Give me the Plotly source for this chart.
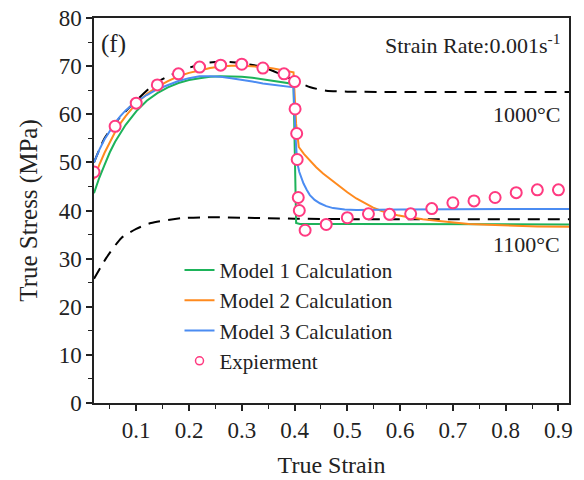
import plotly.graph_objects as go

# ---------------- data ----------------
m1_x = [0.02, 0.03, 0.04, 0.05, 0.06, 0.07, 0.08, 0.10, 0.12, 0.14, 0.16, 0.18, 0.20, 0.22, 0.24,
        0.26, 0.28, 0.30, 0.32, 0.34, 0.36, 0.38, 0.398, 0.403, 0.41, 0.50, 0.70, 0.92]
m1_y = [43.6, 46.8, 49.5, 52.1, 54.3, 56.2, 57.8, 60.6, 62.8, 64.4, 65.6, 66.5, 67.1, 67.5, 67.8,
        67.9, 67.9, 67.8, 67.6, 67.3, 67.0, 66.6, 66.3, 37.4, 37.2, 37.2, 37.2, 37.1]

m2_x = [0.02, 0.03, 0.04, 0.05, 0.06, 0.07, 0.08, 0.10, 0.12, 0.14, 0.16, 0.18, 0.20, 0.22, 0.24,
        0.26, 0.28, 0.30, 0.32, 0.34, 0.36, 0.38, 0.398, 0.403, 0.408, 0.418, 0.429, 0.441,
        0.454, 0.47, 0.486, 0.50, 0.517, 0.533, 0.549, 0.565, 0.58, 0.595, 0.611, 0.627,
        0.643, 0.674, 0.70, 0.73, 0.78, 0.825, 0.86, 0.92]
m2_y = [46.5, 49.5, 52.0, 54.3, 56.3, 58.1, 59.6, 62.2, 64.2, 65.7, 66.9, 67.9, 68.6, 69.1, 69.6,
        69.9, 70.1, 70.1, 70.0, 69.8, 69.5, 69.1, 68.7, 58.0, 53.2, 51.7, 50.4, 49.0,
        47.7, 46.3, 45.0, 43.8, 42.5, 41.5, 40.6, 39.9, 39.4, 39.0, 38.7, 38.4,
        38.2, 37.8, 37.5, 37.2, 37.0, 36.8, 36.7, 36.6]

m3_x = [0.02, 0.03, 0.04, 0.05, 0.06, 0.07, 0.08, 0.10, 0.12, 0.14, 0.16, 0.18, 0.20, 0.22, 0.24,
        0.26, 0.28, 0.30, 0.32, 0.34, 0.36, 0.38, 0.398, 0.402, 0.405, 0.409, 0.413, 0.417,
        0.423, 0.429, 0.438, 0.448, 0.46, 0.473, 0.495, 0.517, 0.60, 0.70, 0.80, 0.92]
m3_y = [50.0, 52.6, 54.8, 56.6, 58.2, 59.6, 60.8, 62.6, 64.0, 65.2, 66.1, 66.9, 67.5, 67.9, 67.9,
        67.8, 67.5, 67.2, 66.8, 66.4, 66.1, 65.8, 65.6, 55.0, 50.0, 48.0, 46.6, 45.6,
        44.3, 43.2, 42.2, 41.5, 40.9, 40.5, 40.2, 40.1, 40.2, 40.3, 40.3, 40.3]

t1000_x = [0.02, 0.04, 0.068, 0.10, 0.137, 0.179, 0.228, 0.27, 0.30, 0.34, 0.37, 0.40, 0.43,
           0.46, 0.50, 0.92]
t1000_y = [50.0, 55.0, 59.2, 62.8, 66.5, 68.8, 70.6, 70.9, 70.6, 69.8, 68.5, 67.0, 65.6,
           64.9, 64.7, 64.6]

t1100_x = [0.02, 0.043, 0.072, 0.10, 0.128, 0.185, 0.25, 0.30, 0.35, 0.40, 0.50, 0.92]
t1100_y = [25.8, 30.1, 34.3, 36.2, 37.4, 38.4, 38.6, 38.5, 38.4, 38.3, 38.2, 38.2]

exp_x = [0.02, 0.06, 0.10, 0.14, 0.18, 0.22, 0.26, 0.30, 0.34, 0.38, 0.40, 0.401, 0.404,
         0.405, 0.407, 0.409, 0.42, 0.46, 0.50, 0.54, 0.58, 0.62, 0.66, 0.70, 0.74, 0.78,
         0.82, 0.86, 0.90]
exp_y = [48.0, 57.5, 62.3, 66.1, 68.4, 69.8, 70.2, 70.4, 69.6, 68.4, 66.8, 61.1, 56.0,
         50.6, 42.7, 40.0, 35.9, 37.1, 38.5, 39.3, 39.2, 39.3, 40.4, 41.6, 42.0, 42.7,
         43.7, 44.3, 44.3]

x_ticks = [0.1, 0.2, 0.3, 0.4, 0.5, 0.6, 0.7, 0.8, 0.9]
x_tick_text = ["0.1", "0.2", "0.3", "0.4", "0.5", "0.6", "0.7", "0.8", "0.9"]

GREEN = "#1db35a"
ORANGE = "#ff8a1e"
BLUE = "#4b8cf2"
PINK = "#ff3a80"
FONT = "Liberation Serif"
INK = "#222"

fig = go.Figure()

dash_line = dict(color="black", width=2, dash="12px,8px", shape="spline", smoothing=0.6)
fig.add_trace(go.Scatter(x=t1000_x, y=t1000_y, mode="lines", showlegend=False, line=dash_line))
fig.add_trace(go.Scatter(x=t1100_x, y=t1100_y, mode="lines", showlegend=False, line=dash_line))

fig.add_trace(go.Scatter(x=m1_x, y=m1_y, mode="lines", name="Model 1 Calculation",
                         line=dict(color=GREEN, width=2)))
fig.add_trace(go.Scatter(x=m2_x, y=m2_y, mode="lines", name="Model 2 Calculation",
                         line=dict(color=ORANGE, width=2)))
fig.add_trace(go.Scatter(x=m3_x, y=m3_y, mode="lines", name="Model 3 Calculation",
                         line=dict(color=BLUE, width=2)))
fig.add_trace(go.Scatter(x=exp_x, y=exp_y, mode="markers", showlegend=False,
                         marker=dict(symbol="circle", size=11, color="white",
                                     line=dict(color=PINK, width=2))))
fig.add_trace(go.Scatter(x=[None], y=[None], mode="markers", name="Expierment",
                         marker=dict(symbol="circle", size=8, color="white",
                                     line=dict(color=PINK, width=1.5))))

axis_common = dict(showline=True, linecolor=INK, linewidth=1.5, mirror=True,
                   ticks="outside", ticklen=6, tickwidth=1.5, tickcolor=INK,
                   showgrid=False, zeroline=False, automargin=False,
                   tickfont=dict(family=FONT, size=23, color=INK))

fig.update_xaxes(range=[0.02, 0.92], tickmode="array", tickvals=x_ticks, ticktext=x_tick_text,
                 minor=dict(dtick=0.05, tick0=0.05, ticks="outside", ticklen=4, tickcolor=INK, tickwidth=1.2),
                 title=dict(text="True Strain", font=dict(family=FONT, size=24, color=INK), standoff=14),
                 **axis_common)
fig.update_yaxes(range=[0, 80], tickmode="linear", tick0=0, dtick=10,
                 minor=dict(dtick=5, tick0=5, ticks="outside", ticklen=4, tickcolor=INK, tickwidth=1.2),
                 title=dict(text="True Stress (MPa)", font=dict(family=FONT, size=25, color=INK), standoff=14),
                 **axis_common)

fig.add_annotation(x=0.01, y=0.975, xref="paper", yref="paper", text="(f)", showarrow=False,
                   xanchor="left", yanchor="top", font=dict(family=FONT, size=25, color=INK))
fig.add_annotation(x=0.985, y=0.975, xref="paper", yref="paper",
                   text="Strain Rate:0.001s<sup>-1</sup>", showarrow=False,
                   xanchor="right", yanchor="top", font=dict(family=FONT, size=22, color=INK))
fig.add_annotation(x=0.985, y=0.75, xref="paper", yref="paper", text="1000°C", showarrow=False,
                   xanchor="right", yanchor="middle", font=dict(family=FONT, size=22, color=INK))
fig.add_annotation(x=0.985, y=0.411, xref="paper", yref="paper", text="1100°C", showarrow=False,
                   xanchor="right", yanchor="middle", font=dict(family=FONT, size=22, color=INK))

fig.update_layout(
    width=584, height=480,
    margin=dict(l=94, r=15, t=18, b=77),
    paper_bgcolor="white", plot_bgcolor="white",
    font=dict(family=FONT, color=INK),
    legend=dict(x=0.18, y=0.398, xanchor="left", yanchor="top",
                bgcolor="rgba(0,0,0,0)", font=dict(family=FONT, size=21, color=INK),
                tracegroupgap=0),
)

fig.write_html("out.html")
